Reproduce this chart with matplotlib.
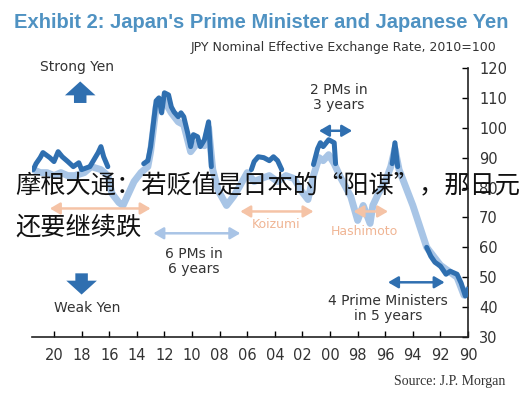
import matplotlib
matplotlib.use("Agg")
import matplotlib.pyplot as plt

# ---------------- data ----------------
light_years = [1990.0, 1990.3, 1990.8, 1991.4, 1992.0, 1992.5, 1993.0, 1993.5, 1994.0, 1994.5,
               1995.0, 1995.3, 1995.6, 1996.0, 1996.5, 1996.9, 1997.1, 1997.6, 1998.0, 1998.5,
               1999.2, 1999.7, 2000.1, 2000.5, 2000.8, 2001.2, 2001.6, 2002.1, 2002.6, 2003.2,
               2003.8, 2004.4, 2005.0, 2005.5, 2006.0, 2006.6, 2007.0, 2007.5, 2008.1, 2008.5,
               2008.8, 2009.1, 2009.6, 2010.1, 2010.6, 2011.0, 2011.5, 2012.0, 2012.4, 2012.6,
               2013.0, 2013.2, 2013.7, 2014.2, 2014.6, 2015.0, 2015.3, 2015.8, 2016.1, 2016.6,
               2017.3, 2017.8, 2018.5, 2019.0, 2019.5, 2020.0, 2020.5, 2021.0, 2021.5]
light_values = [46, 44, 50, 52, 54, 57, 60, 67, 74, 80,
                86, 93, 87, 82, 78, 74, 68, 74, 69, 77,
                83, 88, 91, 89, 90, 84, 76, 79, 83, 84,
                82, 84, 83, 82, 85, 80, 77, 74, 79, 86,
                100, 94, 95, 92, 101, 102, 105, 109, 108, 107,
                92, 87, 85, 82, 78, 74, 75, 78, 84, 86,
                87, 85, 84, 84, 85, 84, 85, 85, 86]

dark_segments = [
    ([1990.0, 1990.2, 1990.5, 1990.8, 1991.3, 1991.6, 1992.0, 1992.4, 1992.7, 1993.0],
     [46, 43.7, 48, 51, 52, 51, 53.7, 55, 57, 60]),
    ([1995.1, 1995.3, 1995.5], [87, 95, 88]),
    ([1999.6, 1999.7, 2000.1, 2000.5, 2000.7, 2000.9, 2001.2],
     [88, 95, 96, 93.7, 95, 93, 87.7]),
    ([2003.5, 2003.8, 2004.1, 2004.4, 2004.8, 2005.2, 2005.5, 2005.7],
     [86, 89, 90.3, 89, 90, 90.3, 88.7, 86]),
    ([2008.6, 2008.8, 2009.1, 2009.4, 2009.6, 2009.9, 2010.1, 2010.3, 2010.6, 2010.8, 2011.0,
      2011.3, 2011.5, 2011.7, 2012.0, 2012.2, 2012.4, 2012.6, 2013.0, 2013.2, 2013.5],
     [87, 102, 96, 93.7, 97, 97.7, 93.7, 98, 103.7, 105, 103.7,
      105.3, 107, 111, 111.7, 105, 110, 109, 93.7, 89, 88]),
    ([2016.1, 2016.4, 2016.6, 2016.8, 2017.4, 2018.0, 2018.2, 2018.6, 2019.0, 2019.4, 2019.7,
      2020.0, 2020.3, 2020.8, 2021.0, 2021.3, 2021.5],
     [87, 90.3, 93.7, 91.7, 87, 86, 88.3, 87, 88.7, 90.3, 92,
      88.7, 90, 91.7, 90, 88, 86]),
]

x_ticks = [1990, 1992, 1994, 1996, 1998, 2000, 2002, 2004, 2006, 2008,
           2010, 2012, 2014, 2016, 2018, 2020]
x_tick_labels = ['90', '92', '94', '96', '98', '00', '02', '04', '06', '08',
                 '10', '12', '14', '16', '18', '20']
y_ticks = [30, 40, 50, 60, 70, 80, 90, 100, 110, 120]

# ---------------- styling ----------------
LIGHT = '#a8c5e6'
DARK = '#2f6fb0'
ORANGE = '#f5c3a6'
GREY = '#333333'

fig = plt.figure(figsize=(5.23, 4.0), dpi=100)
ax = fig.add_axes([0.061, 0.1575, 0.834, 0.6725])

ax.plot(light_years, light_values, color=LIGHT, lw=5.0, solid_capstyle='round',
        solid_joinstyle='round', zorder=2)
for yrs, vals in dark_segments:
    ax.plot(yrs, vals, color=DARK, lw=3.6, solid_capstyle='round',
            solid_joinstyle='round', zorder=3)

ax.set_xlim(2021.6, 1990)
ax.set_ylim(30, 120)
ax.set_xticks(x_ticks)
ax.set_xticklabels(x_tick_labels)
ax.set_yticks(y_ticks)
ax.yaxis.tick_right()
ax.tick_params(axis='y', direction='in', length=4, width=1, labelsize=10.5,
               labelcolor=GREY, pad=8, right=True, left=False)
ax.tick_params(axis='x', direction='in', length=4, width=1, labelsize=10.5,
               labelcolor=GREY, pad=8)
for s in ['top', 'left']:
    ax.spines[s].set_visible(False)
for s in ['right', 'bottom']:
    ax.spines[s].set_linewidth(1.2)
    ax.spines[s].set_color('#222222')
ax.patch.set_alpha(0)

def dbl_arrow(x0, x1, y, color):
    ax.annotate('', xy=(x0, y), xytext=(x1, y),
                arrowprops=dict(arrowstyle='<|-|>,head_length=0.6,head_width=0.35',
                                color=color, lw=1.8, shrinkA=0, shrinkB=0), zorder=4)

# double arrows
dbl_arrow(1998.4, 2000.8, 99, DARK)
dbl_arrow(1991.7, 1995.8, 48.3, DARK)
dbl_arrow(2006.5, 2012.8, 64.7, '#a9c4e6')
dbl_arrow(2013.0, 2020.3, 73, ORANGE)
dbl_arrow(2001.2, 2006.5, 72, ORANGE)
dbl_arrow(1995.8, 1998.3, 72, ORANGE)

# fat arrows
fat = dict(arrowstyle='simple,head_width=1.1,head_length=0.5,tail_width=0.45',
           color=DARK, lw=0, mutation_scale=20, shrinkA=0, shrinkB=0)
ax.annotate('', xy=(2018.1, 115.5), xytext=(2018.1, 108.3), arrowprops=fat, zorder=4)
ax.annotate('', xy=(2018.0, 44.2), xytext=(2018.0, 51.3), arrowprops=fat, zorder=4)

txt = dict(color=GREY, fontsize=10, ha='center', va='center')
ax.text(2018.3, 120.3, 'Strong Yen', clip_on=False, **txt)
ax.text(2017.6, 39.7, 'Weak Yen', **txt)
ax.text(1999.4, 110, '2 PMs in\n3 years', linespacing=1.1, **txt)
ax.text(2009.9, 55.3, '6 PMs in\n6 years', linespacing=1.1, **txt)
ax.text(1995.8, 39.6, '4 Prime Ministers\nin 5 years', linespacing=1.1, **txt)
ax.text(2003.9, 67.7, 'Koizumi', color='#f0b594', fontsize=9, ha='center', va='center')
ax.text(1997.5, 65.3, 'Hashimoto', color='#f0b594', fontsize=9, ha='center', va='center')

# titles
fig.text(0.5, 1 - 22 / 400, "Exhibit 2: Japan's Prime Minister and Japanese Yen",
         color='#4f92c2', fontsize=14.5, fontweight='bold', ha='center', va='center',
         family='Liberation Sans')
fig.text(344 / 523, 1 - 47 / 400, 'JPY Nominal Effective Exchange Rate, 2010=100',
         color=GREY, fontsize=9, ha='center', va='center')
fig.text(450 / 523, 1 - 381 / 400, 'Source: J.P. Morgan', color=GREY, fontsize=10,
         ha='center', va='center', family='Liberation Serif')

# overlay caption
cjk = ['Noto Sans CJK SC', 'DejaVu Sans']
fig.text(15 / 523, 1 - 186 / 400, '摩根大通：若贬值是日本的“阳谋”，那日元',
         color='#111111', fontsize=18.2, ha='left', va='center', family=cjk, zorder=10)
fig.text(15 / 523, 1 - 228 / 400, '还要继续跌',
         color='#111111', fontsize=18.2, ha='left', va='center', family=cjk, zorder=10)

fig.savefig('out.png', dpi=100)
